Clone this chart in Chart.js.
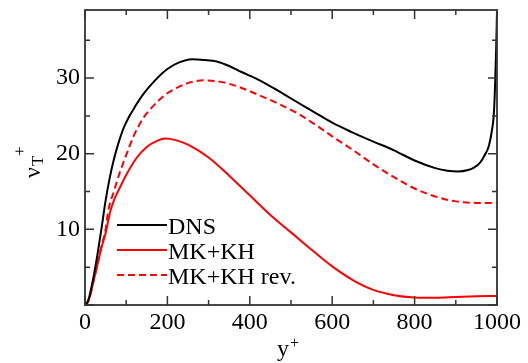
<!DOCTYPE html>
<html><head><meta charset="utf-8">
<script src="https://cdn.jsdelivr.net/npm/chart.js@4/dist/chart.umd.min.js"></script>
<style>html,body{margin:0;padding:0;background:#fff}#wrap{width:528px;height:363px}</style>
</head><body><div id="wrap"><canvas id="c" width="528" height="363"></canvas></div>
<script>
// ---- data ----
const xTickValues = [0,100,200,300,400,500,600,700,800,900,1000];
const xLabelValues = [0,200,400,600,800,1000];
const yTickValues = [0,5,10,15,20,25,30,35];
const yLabelValues = [10,20,30];
const seriesNames = ['DNS','MK+KH','MK+KH rev.'];

const dnsX = [0,5,10,15,20,25,30,40,50,60,69,80,93,105,120,142,170,200,230,260,290,320,350,380,420,460,500,550,600,650,700,750,800,850,880,905,930,945,960,970,980,988,992,995,998,1000];
const dnsY = [0,0.3,1.0,2.2,3.5,5.0,6.6,10.1,13.8,16.8,19.0,21.2,23.3,24.7,26.1,27.9,29.7,31.2,32.1,32.5,32.4,32.2,31.6,30.8,29.8,28.6,27.3,25.7,24.1,22.8,21.6,20.45,19.1,18.1,17.75,17.65,17.85,18.2,18.9,19.8,21.0,23.2,25.0,28.5,34.0,38.8];

const mkX = [0,5,10,15,20,30,40,50,61,70,80,100,126,150,175,195,220,250,300,350,400,450,500,550,600,650,700,750,800,850,900,950,1000];
const mkY = [0,0.2,0.8,1.8,3.0,5.3,7.6,9.5,12.3,13.8,15.0,17.2,19.5,20.9,21.7,22.0,21.8,21.2,19.5,17.1,14.5,11.9,9.6,7.3,5.1,3.3,2.0,1.3,1.0,0.95,1.05,1.15,1.2];

const revX = [0,5,10,15,20,30,40,50,57,70,85,100,117,140,159,180,200,230,260,290,330,370,420,470,520,560,600,650,700,750,800,850,900,950,1000];
const revY = [0,0.2,0.8,1.8,3.0,5.3,7.8,10.0,12.6,15.0,17.6,19.8,22.2,24.6,25.9,27.1,28.0,28.9,29.5,29.7,29.5,28.9,27.8,26.6,25.2,23.8,22.3,20.5,18.6,16.9,15.4,14.35,13.7,13.5,13.5];

const FONT = "'Liberation Serif','Times New Roman',serif";
const pts = (xs, ys) => xs.map((x, i) => ({x: x, y: ys[i]}));

const framePlugin = {
  id: 'frame',
  afterDatasetsDraw(chart) {
    const ctx = chart.ctx, a = chart.chartArea;
    const xs = chart.scales.x, ys = chart.scales.y;
    ctx.save();
    // legend
    const lgY = [225, 250, 275];
    chart.data.datasets.forEach((ds, i) => {
      const y = lgY[i];
      ctx.strokeStyle = ds.borderColor; ctx.lineWidth = 2;
      ctx.setLineDash(ds.borderDash || []);
      ctx.beginPath(); ctx.moveTo(117, y); ctx.lineTo(167, y); ctx.stroke();
      ctx.setLineDash([]);
      ctx.fillStyle = '#000'; ctx.font = '24px ' + FONT;
      ctx.textBaseline = 'alphabetic'; ctx.textAlign = 'left';
      ctx.fillText(ds.label, 168, y + 9);
    });
    // frame
    ctx.strokeStyle = '#333'; ctx.lineWidth = 1.8;
    ctx.strokeRect(a.left, a.top, a.right - a.left, a.bottom - a.top);
    ctx.lineWidth = 1.5;
    ctx.beginPath();
    xTickValues.forEach(v => {
      const px = xs.getPixelForValue(v);
      const len = xLabelValues.includes(v) ? 9 : 5;
      ctx.moveTo(px, a.bottom); ctx.lineTo(px, a.bottom - len);
      ctx.moveTo(px, a.top); ctx.lineTo(px, a.top + len);
    });
    yTickValues.forEach(v => {
      const py = ys.getPixelForValue(v);
      const len = (v % 10 === 0) ? 9 : 5;
      ctx.moveTo(a.left, py); ctx.lineTo(a.left + len, py);
      ctx.moveTo(a.right, py); ctx.lineTo(a.right - len, py);
    });
    ctx.stroke();
    // x title y+
    ctx.fillStyle = '#000';
    ctx.textAlign = 'left'; ctx.textBaseline = 'alphabetic';
    ctx.font = '24px ' + FONT;
    ctx.fillText('y', 277, 356);
    ctx.font = '16px ' + FONT;
    ctx.fillText('+', 290, 348);
    // y title nu_T^+ rotated
    ctx.translate(40, 178);
    ctx.rotate(-Math.PI / 2);
    ctx.font = '24px ' + FONT;
    ctx.fillText('ν', 0, 0);
    ctx.font = '17px ' + FONT;
    ctx.fillText('T', 12, 3);
    ctx.fillText('+', 22, -15);
    ctx.restore();
  }
};

new Chart(document.getElementById('c'), {
  type: 'line',
  data: {
    datasets: [
      {label: seriesNames[0], data: pts(dnsX, dnsY), borderColor: '#000000', borderWidth: 2},
      {label: seriesNames[1], data: pts(mkX, mkY), borderColor: '#ff0000', borderWidth: 2},
      {label: seriesNames[2], data: pts(revX, revY), borderColor: '#ff0000', borderWidth: 2, borderDash: [7,4]}
    ]
  },
  options: {
    responsive: false, animation: false, devicePixelRatio: 1,
    layout: {padding: {top: 10, right: 31, left: 0, bottom: 0}},
    elements: {point: {radius: 0}, line: {cubicInterpolationMode: 'monotone', fill: false}},
    plugins: {legend: {display: false}, tooltip: {enabled: false}},
    scales: {
      x: {
        type: 'linear', min: 0, max: 1000,
        afterBuildTicks: s => { s.ticks = xTickValues.map(v => ({value: v})); },
        afterFit: s => { s.height = 58; s.paddingLeft = 0; s.paddingRight = 0; },
        grid: {display: false, drawTicks: false}, border: {display: false},
        ticks: {autoSkip: false, maxRotation: 0, padding: 3, color: '#000',
          font: {family: FONT, size: 24},
          callback: v => xLabelValues.includes(v) ? String(v) : ''}
      },
      y: {
        type: 'linear', min: 0, max: 39,
        afterBuildTicks: s => { s.ticks = yTickValues.map(v => ({value: v})); },
        afterFit: s => { s.width = 85; s.paddingTop = 0; s.paddingBottom = 0; },
        grid: {display: false, drawTicks: false}, border: {display: false},
        ticks: {autoSkip: false, padding: 5, color: '#000',
          font: {family: FONT, size: 24},
          callback: v => yLabelValues.includes(v) ? String(v) : ''}
      }
    }
  },
  plugins: [framePlugin]
});
</script>
</body></html>
